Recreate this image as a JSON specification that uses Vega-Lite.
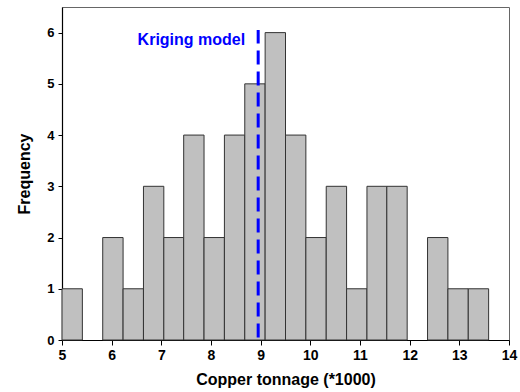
{
  "$schema": "https://vega.github.io/schema/vega-lite/v6.json",
  "width": 447,
  "height": 333,
  "autosize": "none",
  "padding": {"left": 62, "top": 7, "right": 11, "bottom": 52},
  "config": {
    "font": "Liberation Sans",
    "view": {"stroke": "#666", "strokeWidth": 1}
  },
  "datasets": {
    "bins": [
      {"start": 5.00, "end": 5.41, "count": 1},
      {"start": 5.82, "end": 6.23, "count": 2},
      {"start": 6.23, "end": 6.64, "count": 1},
      {"start": 6.64, "end": 7.05, "count": 3},
      {"start": 7.05, "end": 7.45, "count": 2},
      {"start": 7.45, "end": 7.86, "count": 4},
      {"start": 7.86, "end": 8.27, "count": 2},
      {"start": 8.27, "end": 8.68, "count": 4},
      {"start": 8.68, "end": 9.09, "count": 5},
      {"start": 9.09, "end": 9.50, "count": 6},
      {"start": 9.50, "end": 9.91, "count": 4},
      {"start": 9.91, "end": 10.32, "count": 2},
      {"start": 10.32, "end": 10.73, "count": 3},
      {"start": 10.73, "end": 11.14, "count": 1},
      {"start": 11.14, "end": 11.54, "count": 3},
      {"start": 11.54, "end": 11.95, "count": 3},
      {"start": 12.36, "end": 12.77, "count": 2},
      {"start": 12.77, "end": 13.18, "count": 1},
      {"start": 13.18, "end": 13.59, "count": 1}
    ],
    "kriging": [{"value": 8.95, "label": "Kriging model"}]
  },
  "layer": [
    {
      "data": {"name": "bins"},
      "mark": {"type": "bar", "fill": "#C0C0C0", "stroke": "#333", "strokeWidth": 1},
      "encoding": {
        "x": {
          "field": "start",
          "type": "quantitative",
          "scale": {"domain": [5, 14], "nice": false, "zero": false},
          "axis": {
            "title": "Copper tonnage (*1000)",
            "values": [5, 5.5, 6, 6.5, 7, 7.5, 8, 8.5, 9, 9.5, 10, 10.5, 11, 11.5, 12, 12.5, 13, 13.5, 14],
            "labelExpr": "datum.value % 1 === 0 ? datum.label : ''",
            "tickSize": {"condition": {"test": "datum.value % 1 === 0", "value": 5}, "value": 3},
            "tickColor": "#000",
            "domainColor": "#000",
            "domainWidth": 1.2,
            "grid": false,
            "labelFont": "Liberation Sans",
            "labelFontWeight": 700,
            "labelFontSize": 14,
            "labelColor": "#000",
            "labelPadding": 3,
            "labelFlush": false,
            "titleFont": "Liberation Sans",
            "titleFontWeight": "bold",
            "titleFontSize": 16,
            "titleColor": "#000",
            "titlePadding": 9
          }
        },
        "x2": {"field": "end"},
        "y": {
          "field": "count",
          "type": "quantitative",
          "scale": {"domain": [0, 6.5], "nice": false},
          "axis": {
            "title": "Frequency",
            "values": [0, 0.5, 1, 1.5, 2, 2.5, 3, 3.5, 4, 4.5, 5, 5.5, 6, 6.5],
            "labelExpr": "datum.value % 1 === 0 ? datum.label : ''",
            "tickSize": {"condition": {"test": "datum.value % 1 === 0", "value": 4}, "value": 2},
            "tickColor": "#000",
            "domainColor": "#000",
            "domainWidth": 1.2,
            "grid": false,
            "labelFont": "Liberation Sans",
            "labelFontWeight": 700,
            "labelFontSize": 13,
            "labelColor": "#000",
            "labelPadding": 4,
            "labelFlush": false,
            "titleFont": "Liberation Sans",
            "titleFontWeight": "bold",
            "titleFontSize": 16,
            "titleColor": "#000",
            "titlePadding": 14
          }
        },
        "y2": {"datum": 0}
      }
    },
    {
      "data": {"name": "kriging"},
      "mark": {"type": "rule", "color": "#0000FF", "strokeWidth": 3, "strokeDash": [14, 7]},
      "encoding": {
        "x": {"field": "value", "type": "quantitative"},
        "y": {"datum": 0.05},
        "y2": {"datum": 6.05}
      }
    },
    {
      "data": {"name": "kriging"},
      "mark": {"type": "text", "align": "right", "baseline": "alphabetic", "dx": -13, "fontSize": 16, "fontWeight": "bold", "color": "#0000FF", "font": "Liberation Sans"},
      "encoding": {
        "x": {"field": "value", "type": "quantitative"},
        "y": {"datum": 5.75},
        "text": {"field": "label"}
      }
    }
  ]
}
